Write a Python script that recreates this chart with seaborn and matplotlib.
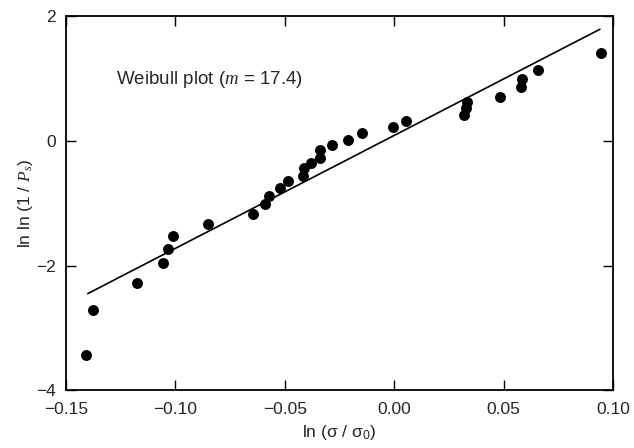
import matplotlib
matplotlib.use('Agg')
import matplotlib.pyplot as plt
import seaborn as sns
import pandas as pd

# data
ln_stress = [-0.1409, -0.1377, -0.1176, -0.1057, -0.1035, -0.1012, -0.0852,
             -0.0647, -0.0592, -0.0574, -0.0524, -0.0487, -0.0419, -0.0414,
             -0.0382, -0.0337, -0.0337, -0.0286, -0.0209, -0.0145, -0.0004,
             0.0056, 0.0320, 0.0329, 0.0334, 0.0484, 0.0580, 0.0585, 0.0658,
             0.0945]
lnln_ps = [-3.43, -2.71, -2.28, -1.955, -1.73, -1.52, -1.33,
           -1.17, -1.02, -0.88, -0.75, -0.65, -0.56, -0.44,
           -0.35, -0.27, -0.15, -0.06, 0.02, 0.12, 0.22,
           0.31, 0.42, 0.52, 0.62, 0.71, 0.86, 0.99, 1.13,
           1.41]

# fitted line end points
fit_x = [-0.14, 0.094]
fit_y = [-2.45, 1.79]

xticks = [-0.15, -0.10, -0.05, 0.00, 0.05, 0.10]
xticklabels = ['\u22120.15', '\u22120.10', '\u22120.05', '0.00', '0.05', '0.10']
yticks = [-4, -2, 0, 2]
yticklabels = ['\u22124', '\u22122', '0', '2']

df = pd.DataFrame({'x': ln_stress, 'y': lnln_ps})
fit = pd.DataFrame({'x': fit_x, 'y': fit_y})

sns.set_style('ticks')
plt.rcParams['font.family'] = ['Liberation Sans', 'DejaVu Sans']
plt.rcParams['mathtext.fontset'] = 'custom'
plt.rcParams['mathtext.rm'] = 'Liberation Sans'
plt.rcParams['mathtext.it'] = 'Liberation Serif:italic'

fig = plt.figure(figsize=(6.34, 4.48), dpi=100)
ax = fig.add_axes([0.104, 0.129, 0.863, 0.835])

sns.scatterplot(data=df, x='x', y='y', ax=ax, color='black', s=62,
                edgecolor='black', linewidth=0, zorder=3)
sns.lineplot(data=fit, x='x', y='y', ax=ax, color='black', lw=1.2)

ax.set_xlim(-0.15, 0.10)
ax.set_ylim(-4, 2)
ax.set_xticks(xticks)
ax.set_xticklabels(xticklabels, fontsize=12.5)
ax.set_yticks(yticks)
ax.set_yticklabels(yticklabels, fontsize=12.5)
ax.tick_params(direction='in', length=7, width=1, top=True, right=True,
               labeltop=False, labelright=False, color='black')
ax.tick_params(axis='x', pad=8.5)
ax.tick_params(axis='y', pad=7)
for sp in ax.spines.values():
    sp.set_visible(True)
    sp.set_linewidth(1.3)
    sp.set_color('black')

ax.set_xlabel('ln (σ / σ$_0$)', fontsize=12.5, labelpad=4)
ax.set_ylabel(r'ln ln (1 / $P_s$)', fontsize=12.5, labelpad=1)

ax.text(-0.127, 0.99, r'Weibull plot ($m$ = 17.4)', fontsize=13.5,
        va='center', ha='left')

fig.savefig('out.png', dpi=100)
